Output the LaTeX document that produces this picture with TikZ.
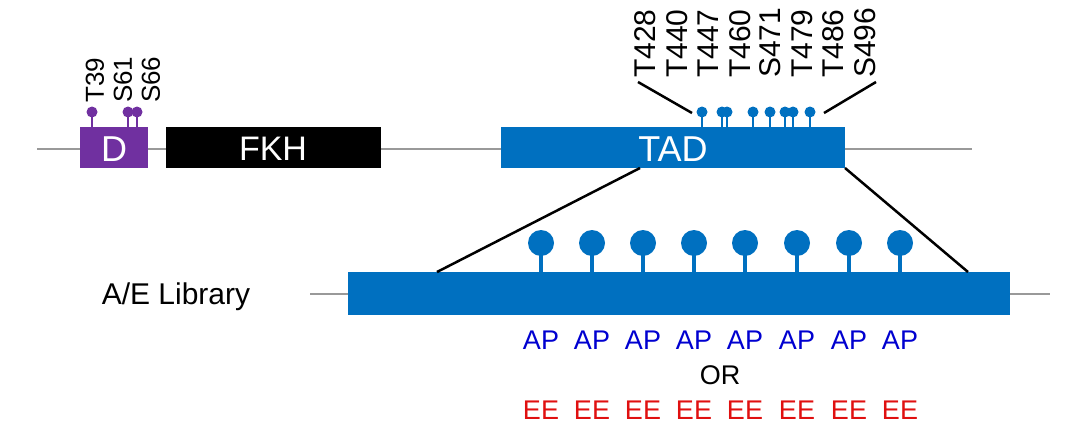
\documentclass[tikz,border=0pt]{standalone}
\usepackage{fontspec}
\setmainfont{Liberation Sans}
\usetikzlibrary{positioning}
\definecolor{tadblue}{HTML}{0070C0}
\definecolor{dpurple}{HTML}{7030A0}
\definecolor{apblue}{HTML}{0000D0}
\definecolor{eered}{HTML}{E01010}

\begin{document}
\begin{tikzpicture}[x=1pt, y=-1pt, auto,
  backbone/.style={gray!80, line width=2.5pt},
  pin/.style={line width=2.5pt}]

\useasboundingbox (0,0) rectangle (1085,447);

\draw[backbone] (37,149) -- (972,149);
\draw[backbone] (310,294) -- (1050,294);

% phosphosites on D
\foreach \x/\t in {92/T39, 128/S61, 137/S66}{
  \draw[pin, dpurple] (\x,127) -- (\x,112);
  \fill[dpurple] (\x,112) circle (5.5);
}
\foreach \x/\t [count=\i] in {95/T39, 123/S61, 151/S66}{
  \node[rotate=90, anchor=west, inner sep=0pt, font=\fontsize{26}{26}\selectfont] (dl\i) at (\x,103) {\t};
}

% phosphosites on TAD
\foreach \x in {702,722,727,753,770,785,793,810}{
  \draw[pin, tadblue] (\x,127) -- (\x,112);
  \fill[tadblue] (\x,112) circle (5.5);
}
\foreach \x/\t [count=\i] in {645/T428,677/T440,708/T447,740/T460,770/S471,802/T479,833/T486,865/S496}{
  \node[rotate=90, anchor=west, inner sep=0pt, font=\fontsize{30}{30}\selectfont] (tl\i) at (\x,78) {\t};
}
\coordinate (la) at (638,82);
\coordinate (lb) at (692,113);
\coordinate (ra) at (876,82);
\coordinate (rb) at (824,113);
\draw[line width=2.5pt] (la) -- (lb);
\draw[line width=2.5pt] (ra) -- (rb);

\fill[dpurple] (80,127) rectangle (148,168);
\node[white, font=\fontsize{36}{36}\selectfont] (D) at (114,149) {D};
\fill[black] (166,127) rectangle (381,168);
\node[white, font=\fontsize{34}{34}\selectfont] (FKH) at (273,149) {FKH};
\fill[tadblue] (501,127) rectangle (845,168);
\node[white, font=\fontsize{36}{36}\selectfont] (TAD) at (673,149) {TAD};

% library
\foreach \x in {541,592,643,694,745,797,849,900}{
  \draw[line width=4pt, tadblue] (\x,272) -- (\x,245);
  \fill[tadblue] (\x,243) circle (13);
}
\fill[tadblue] (348,272) rectangle (1010,315);
\coordinate (zl) at (640,168);
\coordinate (zr) at (845,168);
\coordinate (bl) at (437,272);
\coordinate (br) at (968,272);
\draw[line width=2.5pt] (zl) -- (bl);
\draw[line width=2.5pt] (zr) -- (br);

\node[font=\fontsize{30}{30}\selectfont] (lib) at (176,297) {A/E Library};
\foreach \x [count=\i] in {541,592,643,694,745,797,849,900}{
  \node[apblue, font=\fontsize{27}{27}\selectfont] (ap\i) at (\x,340) {AP};
  \node[eered, font=\fontsize{27}{27}\selectfont] (ee\i) at (\x,410) {EE};
}
\node[font=\fontsize{27}{27}\selectfont] (or) at (720,375) {OR};

\end{tikzpicture}
\end{document}
